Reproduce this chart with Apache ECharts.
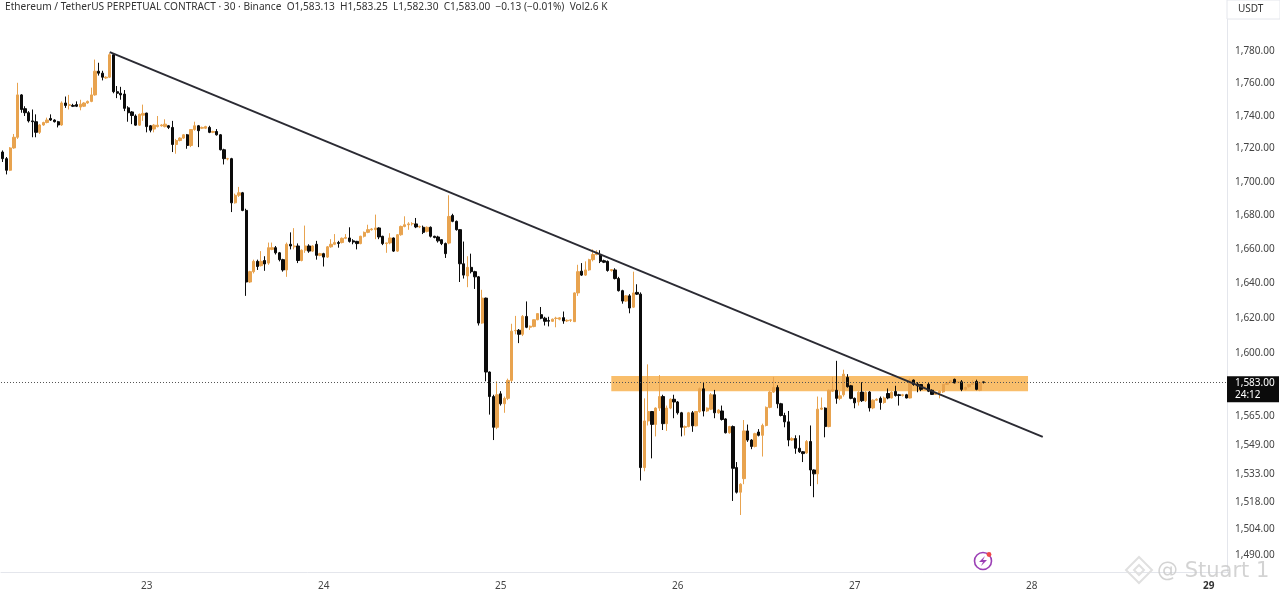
<!DOCTYPE html>
<html><head><meta charset="utf-8">
<style>html,body{margin:0;padding:0;background:#fff}#c{width:1280px;height:594px}</style>
<script src="https://cdn.jsdelivr.net/npm/echarts@6/dist/echarts.min.js"></script>
</head><body><div id="c"></div>
<script>
const headerText = 'Ethereum / TetherUS PERPETUAL CONTRACT · 30 · Binance  O1,583.13  H1,583.25  L1,582.30  C1,583.00  −0.13 (−0.01%)  Vol2.6 K';
const priceTicks = [1780,1760,1740,1720,1700,1680,1660,1640,1620,1600,1565,1549,1533,1518,1504,1490];
const dayLabels = {39:'23',87:'24',135:'25',183:'26',231:'27',279:'28',327:'29'};
const lastPrice = 1583;
const trendStart = [29, 1778.7];
const trendEnd = [282, 1552.7];
const zoneFrom = [165, 1586.5];
const zoneTo = [278, 1578];
// rows: open, high, low, close
const ohlc = [
[1717,1718,1711,1713],[1713,1714,1703.5,1706],[1706,1720,1705.5,1719.5],[1719.5,1728,1719,1726],[1726,1759.5,1725,1752],
[1752,1752.5,1741,1743],[1743.5,1745,1739,1741],[1741,1742,1735,1736],[1736,1743,1726,1735.5],[1735.5,1740,1726,1729],
[1729,1734,1728,1733.5],[1733.5,1735.5,1733,1735],[1735,1738,1734.5,1736.5],[1737.5,1740,1736,1736.5],[1736.5,1737,1735,1735.5],
[1735.5,1736,1732,1733.5],[1733.5,1748,1733,1747],[1747,1751,1744,1745.5],[1745.5,1752,1743,1746],[1745.5,1746.5,1744.5,1745],
[1746,1748,1744.5,1745],[1744.5,1749,1742.5,1746.3],[1745,1747.5,1744.5,1747],[1747,1748.5,1746.5,1748],[1748,1756.5,1747.5,1752],
[1752,1774,1751.5,1766.7],[1766.7,1772,1764,1765.5],[1765.5,1767,1761,1763],[1762.5,1763.5,1762,1763],[1763,1778,1762.5,1777],
[1777,1778,1753,1754],[1754,1757.5,1750,1753],[1753,1757,1749,1752],[1752.5,1755,1742,1743.7],[1744,1745,1735.5,1741],
[1741.5,1742,1734,1739.3],[1739,1740,1733,1733.4],[1733.4,1740.5,1733,1740],[1739.5,1746,1736,1740.6],[1740.8,1741,1729,1732.5],
[1733,1733.5,1729,1730.3],[1731,1734,1729,1733.4],[1732.5,1739,1732,1733.4],[1733,1734,1732.5,1733.5],[1732.5,1737,1732,1734],
[1733,1733.5,1731,1732],[1732,1736,1717,1721.6],[1721.6,1725,1716,1724],[1724,1726,1723.5,1725.5],[1725.5,1728,1725,1727.5],
[1727.5,1728,1719,1721],[1721,1731,1720,1730.7],[1730.7,1735.5,1730,1733],[1733,1733.5,1720,1730],[1731.5,1732.5,1731,1732],
[1731.5,1733,1731,1732.5],[1732,1733,1728.5,1729],[1729,1730,1728.5,1729.5],[1729.5,1731,1727,1727.5],[1727.5,1728,1718,1718.4],
[1718.4,1719,1709.5,1713],[1712.8,1713.5,1712,1713],[1713,1713.5,1681,1686.5],[1686.5,1692,1686,1691],[1691,1696,1690,1692.5],
[1692.5,1693,1681.5,1682],[1682,1683,1632,1640],[1640,1646.5,1639.5,1646],[1646,1653,1645,1652],[1652,1653,1647,1649],
[1649.5,1658,1649,1652],[1652.5,1655,1646.5,1650.5],[1651,1663,1650,1660],[1659,1663,1658.5,1660],[1660,1661,1656,1657],
[1657,1657.5,1652,1653],[1653,1653.5,1646,1647],[1647,1663,1643,1662],[1662,1669,1659,1661],[1660.5,1671.5,1659,1661],
[1661,1662.5,1651,1652.5],[1652.5,1659,1652,1658.5],[1658.5,1673,1657,1661],[1661,1662,1657,1658],[1658,1661.5,1657.5,1661],
[1662,1664,1653,1655.5],[1655.5,1657,1655,1656.5],[1656.5,1657,1649,1654.5],[1654.5,1661,1654,1660.5],[1660.5,1665,1660,1662],
[1662,1668,1661.5,1663],[1663,1664,1660,1662.5],[1663,1666,1662.5,1665.5],[1665.5,1668,1665,1666],[1665.7,1672,1663,1663.7],
[1664,1665,1662,1663.3],[1663.7,1664,1659,1662.4],[1662.4,1667,1662,1666.7],[1666.7,1669.5,1666,1669],[1669,1673.5,1668.5,1670.6],
[1670.6,1671.5,1670,1671],[1670.6,1679.5,1665,1671.6],[1671.6,1672,1665,1666.3],[1666.7,1667,1661.5,1662.4],[1662.4,1663,1657,1662.8],
[1662.8,1668.5,1662,1665.7],[1665.7,1666,1657.5,1658],[1658,1668,1657.5,1667.6],[1667.6,1673,1667,1672.5],[1672.5,1678.5,1672,1673.5],
[1673.5,1675,1670.5,1674],[1674,1675,1673,1674.2],[1674,1677.5,1671.5,1672.2],[1672.2,1673,1671.5,1672.5],[1672,1673,1668,1669],
[1669.6,1672.5,1669,1672],[1672,1672.5,1666,1666.7],[1666.7,1667,1665.5,1666],[1666.3,1667,1663,1664],[1664.7,1665,1661.5,1662.4],
[1662.4,1663,1654,1656.5],[1662.7,1691,1662,1678.4],[1679,1680,1675,1675.5],[1675.5,1676,1670,1670.6],[1670.6,1671,1640,1650.6],
[1650.6,1663.6,1642,1644],[1643.5,1655,1637,1648.5],[1648.5,1656.5,1645,1646],[1646,1646.5,1636,1643],[1643,1643.5,1615,1616.4],
[1616.4,1635.5,1616,1630.7],[1630.7,1631,1583.5,1588.7],[1588.7,1589,1565,1575],[1575,1576,1551,1558],[1558,1583.5,1557,1576],
[1576.5,1578,1570,1571],[1571,1575,1566,1574],[1574,1585,1573,1584],[1584,1616,1583,1611.8],[1612,1620.5,1610,1612.2],
[1612.3,1613,1605,1610],[1610,1621,1609,1620.2],[1620.2,1628.8,1613.5,1614],[1614,1615,1612.5,1614.6],[1614.4,1618.5,1614,1618.3],
[1618.3,1622,1618,1621.8],[1621.2,1625.6,1618.6,1619.2],[1619.2,1620,1615,1617.4],[1617.8,1620,1614.5,1617.5],[1617.4,1619,1617,1618.6],
[1619,1620,1614,1619.2],[1618.6,1619.8,1618,1619.4],[1619.5,1623,1616,1617.6],[1617.6,1618.5,1617,1618],[1618,1618.5,1617,1618.2],
[1617.2,1634,1617,1633.7],[1633.7,1650,1632,1646],[1646.3,1651,1643.5,1644],[1644,1652,1643.5,1647],[1647,1653.5,1646.5,1653],
[1653,1659,1652,1656],[1656,1658.5,1655.5,1657.3],[1656,1658.5,1651,1652],[1652.4,1653,1651,1651.5],[1652,1652.5,1646,1646.7],
[1646.7,1647.5,1646,1647.2],[1647,1648,1641.5,1642],[1642,1643,1634.5,1635],[1635,1635.5,1627.5,1629],[1629,1632.5,1628.5,1632],
[1632,1633,1622,1625],[1625.5,1646,1625,1633.7],[1634,1638.7,1632.5,1633],[1633,1634,1529,1536],[1536,1574,1534,1561.5],
[1561.5,1593,1559,1566.7],[1566.7,1567,1541,1559.6],[1559.6,1569,1553,1568.6],[1568.6,1587,1567,1575],[1575,1576,1556.5,1560],
[1560,1570,1556,1568.6],[1568.6,1574,1568,1573.5],[1573.5,1576,1563,1572],[1572,1572.5,1565,1566],[1566,1566.5,1553,1558],
[1558,1559,1553.5,1558.4],[1558.4,1566.5,1558,1566],[1566,1567,1555.5,1558.8],[1558.8,1567,1558.5,1566.7],
[1566.7,1580,1566,1579.3],[1579.3,1583,1564,1567],[1567,1569,1566.5,1568.6],[1568,1577,1567.5,1576],[1576,1578.7,1563,1566],
[1566,1568,1565.5,1567.5],[1567,1570,1561.7,1562.3],[1562.6,1563,1554.6,1555],[1555,1558.8,1554.5,1558.4],[1558.4,1559,1518,1535.6],
[1536,1539,1522,1522.7],[1522.7,1527.5,1510.5,1527],[1530,1562,1527,1556],[1556,1559.5,1550,1551],[1551,1551.5,1546,1547.5],
[1547.5,1555,1547,1554.5],[1555.4,1557,1553,1553.6],[1553.6,1560,1542,1559],[1559,1569.5,1558.5,1569],[1569,1578,1568.5,1577.5],
[1577.5,1586,1577,1580],[1580,1581.3,1568.5,1571],[1571,1571.5,1564,1564.5],[1564.5,1566,1558,1561],[1561,1567,1547.6,1551],
[1551,1552.5,1550.5,1551.8],[1551.8,1553.6,1543.5,1546.5],[1546.5,1553.6,1544,1544.6],[1544.6,1545,1539,1543.6],[1544,1551,1543.5,1550.2],
[1550.2,1559,1526,1534.7],[1534.7,1535,1520,1532.6],[1532.6,1575,1527,1568],[1568,1574.5,1567.5,1568.6],[1568.6,1569,1552.5,1558.4],
[1558.4,1579,1558,1578.5],[1578,1586,1577.5,1578.8],[1578.5,1595,1571,1574],[1574,1578,1573,1575.4],[1576,1590,1575,1587.5],
[1585.7,1587.5,1580,1580.5],[1581,1581.5,1573.5,1574],[1574,1574.5,1568.5,1571.5],[1572,1578,1570,1577.4],[1577.5,1583,1572,1572.7],
[1572.7,1578,1572,1577.4],[1577.5,1578,1566.7,1568.7],[1568.7,1573.5,1568,1573],[1573,1574,1572.5,1573.5],[1574,1575,1567.7,1571.7],
[1571.7,1575,1571,1574.2],[1576.7,1579.5,1573.5,1574.2],[1574.2,1578,1574,1577.4],[1577.8,1581,1575,1575.6],[1576,1576.5,1570,1575.6],
[1575.6,1576.5,1575,1576],[1576,1576.5,1574,1574.2],[1574.2,1585,1574,1584],[1584.2,1584.5,1581,1581.7],[1582,1583,1577.4,1581],
[1581.7,1582,1578,1579],[1579.3,1581,1579,1580.5],[1581.8,1583,1577.5,1578],[1578.5,1579,1576,1576.2],[1576.2,1577.5,1576,1577],
[1577,1578.5,1574,1578],[1577.6,1582,1577,1581.8],[1581.8,1583,1581.5,1582.8],[1582.8,1584,1582.5,1583.8],[1584.6,1585,1582.4,1582.6],
[1582.8,1583.5,1582.5,1583.2],[1583.2,1584.2,1578,1579],[1579,1580.5,1578.5,1580],[1580.5,1582,1580,1581.7],[1581.8,1584,1581.5,1582.8],
[1583.4,1584.4,1578.5,1579],[1578.5,1583,1578,1582.8],[1583.13,1583.25,1582.3,1583]
];

const categoryCount = 333;
const categories = [];
for (let i = 0; i < categoryCount; i++) {
  const m = (i - 39) * 30, d = 23 + Math.floor(m / 1440), t = ((m % 1440) + 1440) % 1440;
  categories.push(d + ' ' + String(Math.floor(t / 60)).padStart(2, '0') + ':' + String(t % 60).padStart(2, '0'));
}
const candleData = ohlc.map(r => [r[0], r[3], r[2], r[1]]);
const fmt = v => Number(v).toLocaleString('en-US', {minimumFractionDigits: 2, maximumFractionDigits: 2});
const UI = '"Noto Sans", sans-serif';
const chart = echarts.init(document.getElementById('c'), null, {renderer: 'canvas'});
chart.setOption({
  animation: false,
  backgroundColor: '#fff',
  title: {text: headerText, left: 5, top: 2.5, padding: 0, textStyle: {fontFamily: UI, fontSize: 10.15, fontWeight: 'normal', color: '#333'}},
  grid: {left: 1, width: 1228, top: 0, bottom: 22},
  xAxis: {
    type: 'category', data: categories, boundaryGap: true,
    axisLine: {lineStyle: {color: '#e4e6ec', width: 1}}, axisTick: {show: false},
    splitLine: {show: false},
    axisLabel: {
      interval: i => dayLabels[i] !== undefined,
      formatter: (v, i) => i === 327 ? '{b|' + dayLabels[i] + '}' : dayLabels[i],
      rich: {b: {fontFamily: UI, fontSize: 10, fontWeight: 'bold', color: '#333'}},
      fontFamily: UI, fontSize: 10, color: '#444', margin: 9
    }
  },
  yAxis: {
    type: 'log', position: 'right', offset: -2, min: 1480.4, max: 1811.7,
    axisLine: {show: true, lineStyle: {color: '#e4e6ec'}}, axisTick: {show: false}, splitLine: {show: false}, minorTick: {show: false}, minorSplitLine: {show: false},
    axisLabel: {customValues: priceTicks, formatter: v => '{p|' + fmt(v) + '}', margin: 8,
      rich: {p: {fontFamily: UI, fontSize: 10, color: '#444', padding: [3, 0, 0, 0]}}}
  },
  series: [{
    type: 'candlestick', data: candleData, barWidth: 2.8, clip: false,
    itemStyle: {color: '#e8a34f', color0: '#0b0b0b', borderColor: '#e8a34f', borderColor0: '#0b0b0b', borderWidth: 1},
    markArea: {silent: true, itemStyle: {color: 'rgba(247,165,50,0.72)'}, data: [[{coord: zoneFrom}, {coord: zoneTo}]]},
    markLine: {
      silent: true, symbol: 'none', animation: false,
      data: [
        {yAxis: lastPrice, lineStyle: {type: [1, 2], color: '#555', width: 1},
         label: {show: true, position: 'end', distance: 0, offset: [-2, 7], formatter: fmt(lastPrice) + '\n24:12', color: '#fff', backgroundColor: '#0b0b0b', fontFamily: UI, fontSize: 10, lineHeight: 12, padding: [1, 4, 1, 8], width: 40, align: 'left'}},
        [{coord: trendStart, lineStyle: {type: 'solid', color: '#2b2b33', width: 2}, label: {show: false}}, {coord: trendEnd}]
      ]
    }
  }],
  graphic: [
    {type: 'rect', shape: {x: 1227, y: 0, width: 53, height: 19}, style: {fill: '#fff', stroke: '#e4e6ec', lineWidth: 1}, z: 50},
    {type: 'text', style: {x: 1238, y: 4, text: 'USDT', fontFamily: UI, fontSize: 10, fill: '#333'}, z: 51},
    {type: 'circle', shape: {cx: 983, cy: 561, r: 8.5}, style: {fill: 'none', stroke: '#9b3fb5', lineWidth: 1.6}, z: 50},
    {type: 'polygon', shape: {points: [[985,556],[979,562],[983,562],[981,566],[987,560],[983,560]]}, style: {fill: '#9b3fb5'}, z: 51},
    {type: 'circle', shape: {cx: 989, cy: 554.5, r: 2.4}, style: {fill: '#f04a4a'}, z: 52},
    {type: 'polygon', shape: {points: [[1139,557],[1152,570],[1139,583],[1126,570]]}, style: {fill: 'none', stroke: '#e0e0e0', lineWidth: 2}, z: 60},
    {type: 'polygon', shape: {points: [[1139,565],[1144,570],[1139,575],[1134,570]]}, style: {fill: 'none', stroke: '#e0e0e0', lineWidth: 2}, z: 60},
    {type: 'text', style: {x: 1157, y: 561, text: '@ Stuart 1', fontFamily: '"DejaVu Sans"', fontSize: 21, fill: 'rgba(200,200,200,0.8)'}, z: 60}
  ]
});
</script></body></html>
